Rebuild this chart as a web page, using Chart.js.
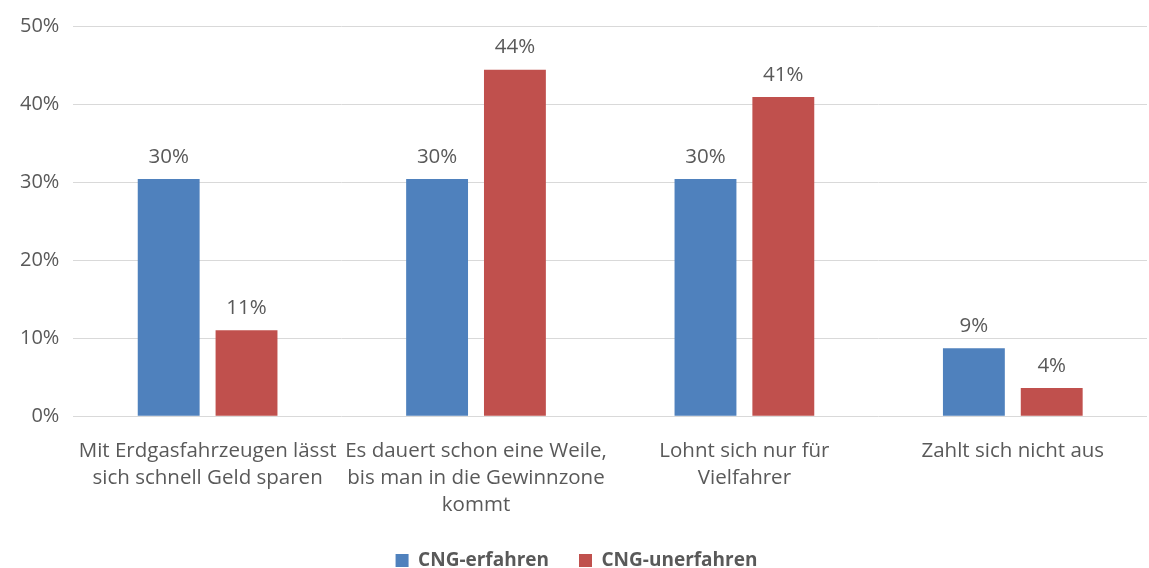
<!DOCTYPE html>
<html>
<head>
<meta charset="utf-8">
<script src="https://cdn.jsdelivr.net/npm/chart.js@4"></script>
<style>
  html, body { margin: 0; padding: 0; background: #fff; }
  #wrap { width: 1149px; height: 568px; }
</style>
</head>
<body>
<div id="wrap"><canvas id="chart"></canvas></div>
<script>
//categories (multi-line, as in the original)
const categories = [
  ["Mit Erdgasfahrzeugen lässt", "sich schnell Geld sparen"],
  ["Es dauert schon eine Weile,", "bis man in die Gewinnzone", "kommt"],
  ["Lohnt sich nur für", "Vielfahrer"],
  ["Zahlt sich nicht aus"]
];
//series values in percent
const erfahren = [30.4, 30.4, 30.4, 8.7];
const unerfahren = [11.0, 44.4, 40.9, 3.6];
//y tick values
const yTicks = [0, 10, 20, 30, 40, 50];

const textGrey = "#595959";
const fontFam = "'Open Sans', sans-serif";
//legend keeps its wide item spacing but takes less height
const legendTrim = 11;

//draw the value above each bar
const valueLabels = {
  id: "valueLabels",
  afterDatasetsDraw(chart) {
    const ctx = chart.ctx;
    ctx.save();
    ctx.fillStyle = textGrey;
    ctx.font = "20.5px " + fontFam;
    ctx.textAlign = "center";
    ctx.textBaseline = "bottom";
    chart.data.datasets.forEach((ds, i) => {
      chart.getDatasetMeta(i).data.forEach((bar, j) => {
        ctx.fillText(Math.round(ds.data[j]) + "%", bar.x, bar.y - 12);
      });
    });
    ctx.restore();
  }
};

const legendFit = {
  id: "legendFit",
  beforeInit(chart) {
    const legend = chart.legend;
    if (!legend) return;
    const fit = legend.fit;
    legend.fit = function () {
      fit.call(this);
      this.height -= legendTrim;
    };
  },
  afterLayout(chart) {
    if (!chart.legend) return;
    chart.legend.top -= legendTrim;
  }
};

new Chart(document.getElementById("chart"), {
  type: "bar",
  plugins: [valueLabels, legendFit],
  data: {
    labels: categories,
    datasets: [
      { label: "CNG-erfahren", data: erfahren, backgroundColor: "#4F81BD",
        categoryPercentage: 0.58, barPercentage: 0.795 },
      { label: "CNG-unerfahren", data: unerfahren, backgroundColor: "#C0504D",
        categoryPercentage: 0.58, barPercentage: 0.795 }
    ]
  },
  options: {
    responsive: true,
    maintainAspectRatio: false,
    animation: false,
    layout: { padding: { top: 7, right: 2, left: 6, bottom: -12 } },
    plugins: {
      tooltip: { enabled: false },
      legend: {
        position: "bottom",
        labels: {
          color: textGrey,
          font: { family: fontFam, size: 19, weight: "bold" },
          boxWidth: 13,
          boxHeight: 13,
          padding: 30
        }
      }
    },
    scales: {
      x: {
        grid: { display: false },
        border: { display: false },
        ticks: {
          color: textGrey,
          font: { family: fontFam, size: 20.5, lineHeight: 1.33 },
          maxRotation: 0,
          autoSkip: false,
          padding: 13
        }
      },
      y: {
        min: 0,
        max: 50,
        afterBuildTicks: (axis) => { axis.ticks = yTicks.map(v => ({ value: v })); },
        grid: { color: "#D9D9D9", lineWidth: 1, drawTicks: false },
        border: { display: false },
        ticks: {
          color: textGrey,
          font: { family: fontFam, size: 20 },
          padding: 14,
          callback: (v) => v + "%"
        }
      }
    }
  }
});
</script>
</body>
</html>
